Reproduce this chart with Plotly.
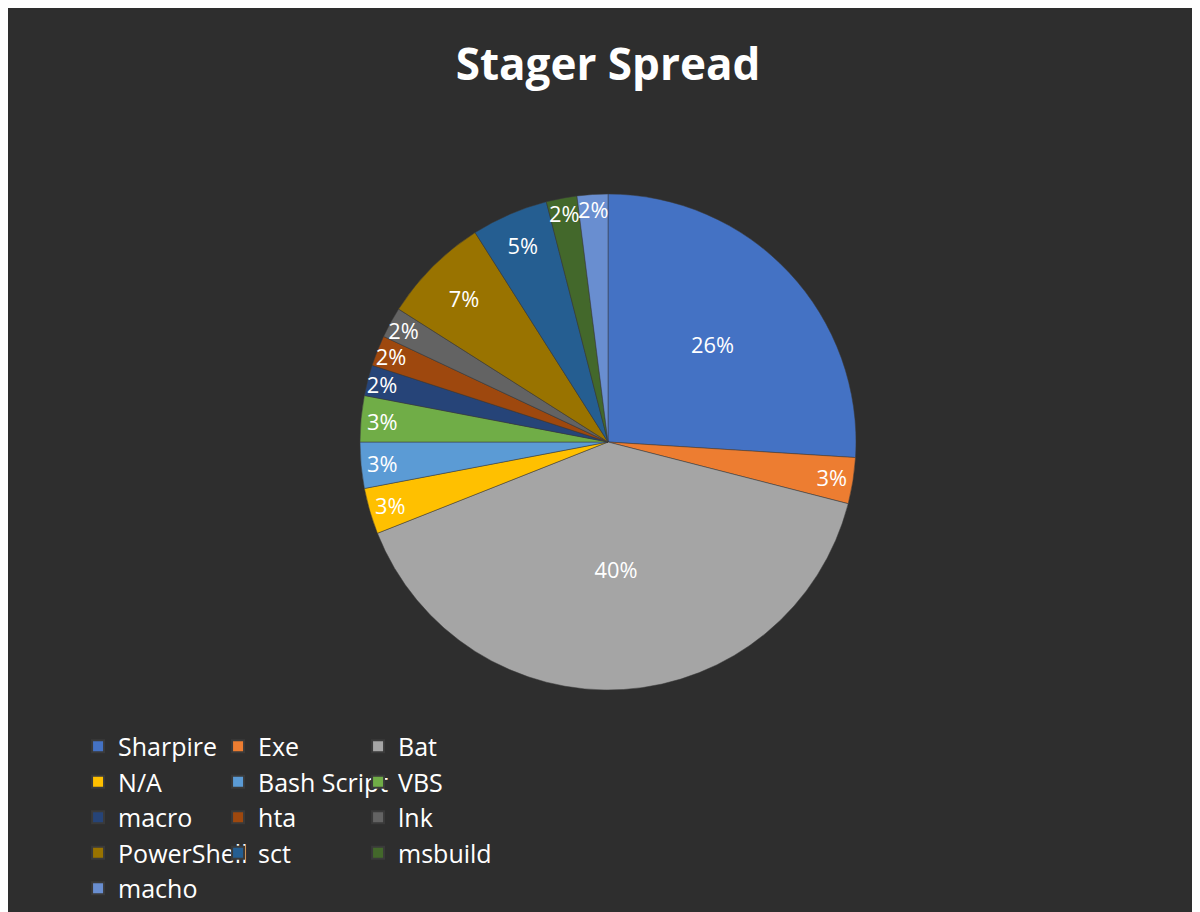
import plotly.graph_objects as go

labels = ["Sharpire", "Exe", "Bat", "N/A", "Bash Script", "VBS", "macro", "hta", "lnk", "PowerShell", "sct", "msbuild", "macho"]
values = [26, 3, 40, 3, 3, 3, 2, 2, 2, 7, 5, 2, 2]
colors = ["#4472C4", "#ED7D31", "#A5A5A5", "#FFC000", "#5B9BD5", "#70AD47", "#264478",
          "#9E480E", "#636363", "#997300", "#255E91", "#43682B", "#698ED0"]

fig = go.Figure(go.Pie(
    labels=labels, values=values, sort=False, direction="clockwise", rotation=0,
    marker=dict(colors=colors, line=dict(color="#3a3a3a", width=0.5)),
    texttemplate="%{percent:.0%}", textposition="inside", insidetextorientation="horizontal",
    textfont=dict(color="white", size=22, family="Open Sans"),
    domain=dict(x=[0.05, 0.95], y=[0.26, 0.88]),
))
fig.update_layout(
    width=1200, height=912,
    paper_bgcolor="#2e2e2e", plot_bgcolor="#2e2e2e",
    uniformtext=dict(minsize=20, mode="show"),
    title=dict(text="<b>Stager Spread</b>", x=0.5, y=0.955, xanchor="center",
               font=dict(color="white", size=44, family="Open Sans")),
    legend=dict(orientation="h", x=0.13, y=0.22, xanchor="left", yanchor="top",
                entrywidth=95, font=dict(color="white", size=25, family="Open Sans"),
                itemsizing="constant"),
    margin=dict(l=10, r=10, t=90, b=20),
)
fig.write_html("out.html")
